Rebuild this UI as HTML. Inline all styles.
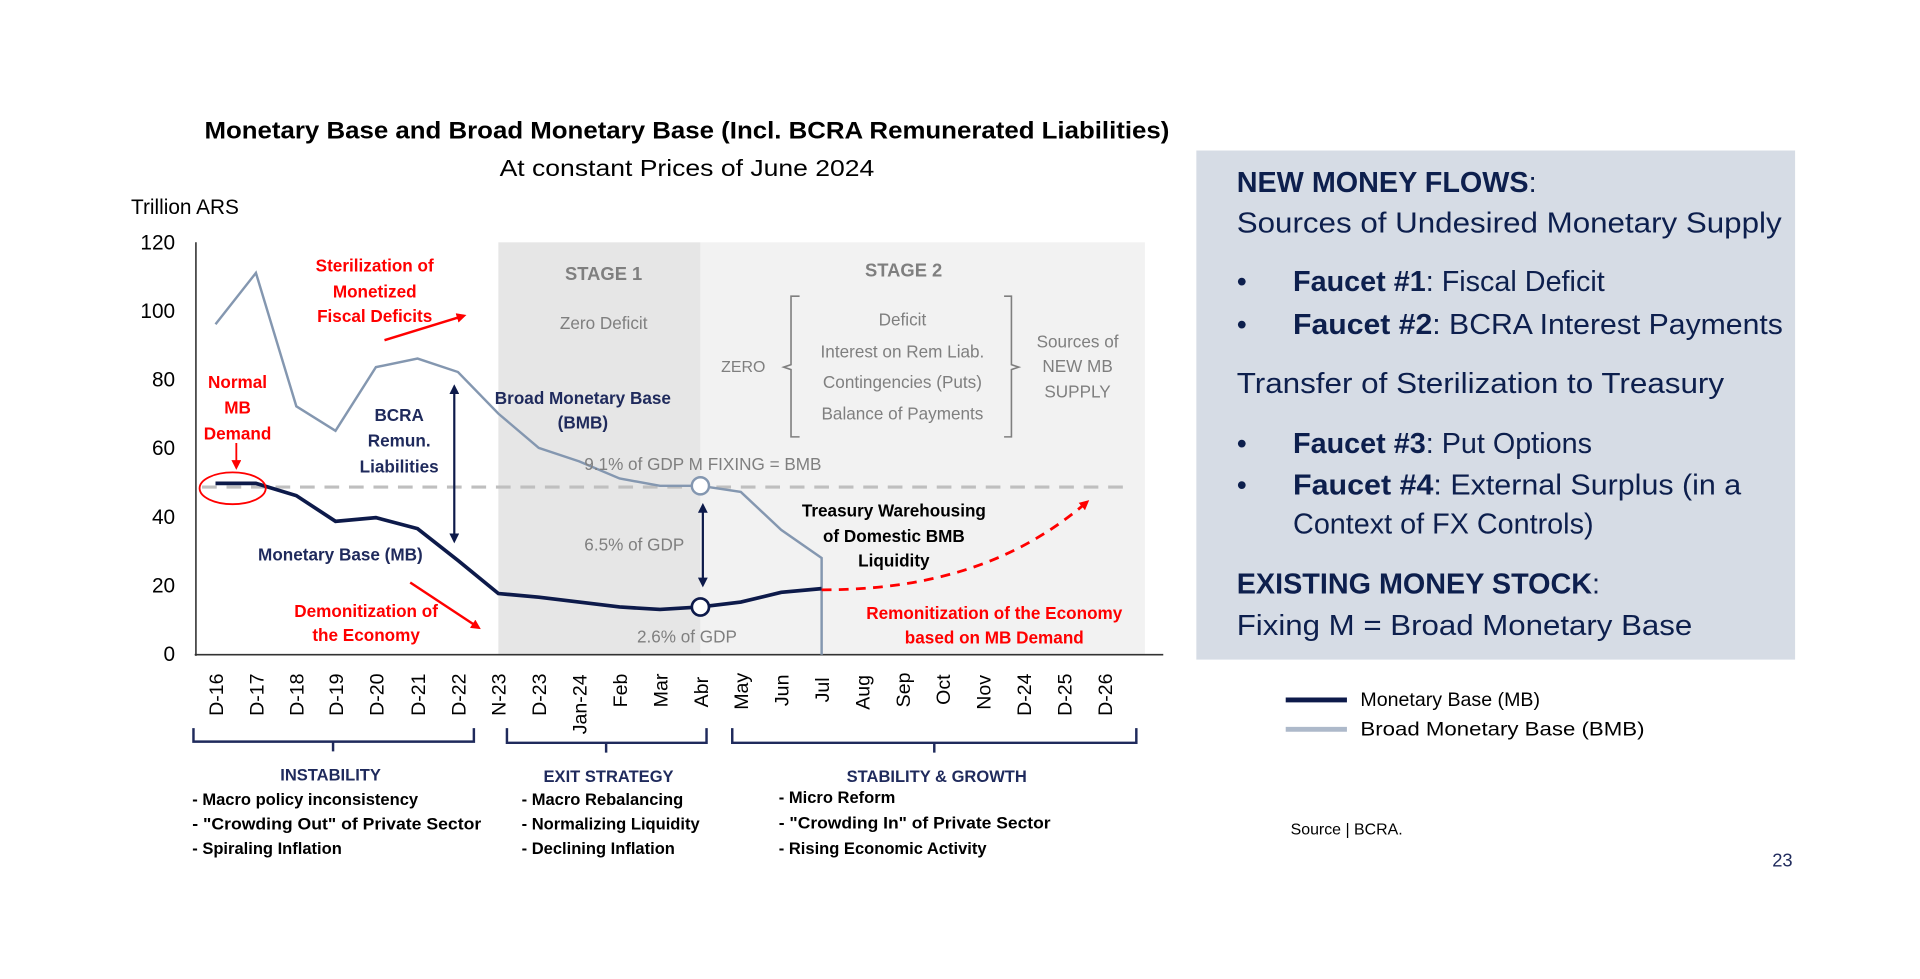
<!DOCTYPE html>
<html><head><meta charset="utf-8"><style>
html,body{margin:0;padding:0;background:#fff;}
svg{display:block;font-family:"Liberation Sans",sans-serif;}
</style></head><body>
<svg width="1920" height="979" viewBox="0 0 1568 800" preserveAspectRatio="none" xmlns="http://www.w3.org/2000/svg">
<defs>
<marker id="ar" markerWidth="8" markerHeight="8" refX="6" refY="4" orient="auto" markerUnits="userSpaceOnUse"><path d="M0,0 L8,4 L0,8 z" fill="#ff0000"/></marker>
<marker id="an" markerWidth="8" markerHeight="8" refX="6" refY="4" orient="auto-start-reverse" markerUnits="userSpaceOnUse"><path d="M0,0 L8,4 L0,8 z" fill="#0d1a4a"/></marker>
</defs>
<text x="167" y="113" font-size="20" font-weight="bold" fill="#000" textLength="788" lengthAdjust="spacingAndGlyphs">Monetary Base and Broad Monetary Base (Incl. BCRA  Remunerated Liabilities)</text>
<text x="408" y="144" font-size="19" fill="#000" textLength="306" lengthAdjust="spacingAndGlyphs">At constant Prices of June 2024</text>
<text x="107" y="175" font-size="17" fill="#000">Trillion ARS</text>
<rect x="407" y="198" width="165" height="337" fill="#e6e6e6"/>
<rect x="572" y="198" width="363" height="337" fill="#f2f2f2"/>
<g font-size="17" text-anchor="end" fill="#000">
<text x="143" y="204">120</text><text x="143" y="260">100</text><text x="143" y="316">80</text><text x="143" y="372">60</text><text x="143" y="428">40</text><text x="143" y="484">20</text><text x="143" y="540">0</text>
</g>
<line x1="160" y1="198" x2="160" y2="536" stroke="#333" stroke-width="1.3"/>
<line x1="159" y1="535" x2="950" y2="535" stroke="#333" stroke-width="1.3"/>
<g font-size="16" fill="#000">
<text transform="translate(182,585) rotate(-90)">D-16</text>
<text transform="translate(215,585) rotate(-90)">D-17</text>
<text transform="translate(248,585) rotate(-90)">D-18</text>
<text transform="translate(280,585) rotate(-90)">D-19</text>
<text transform="translate(313,585) rotate(-90)">D-20</text>
<text transform="translate(347,585) rotate(-90)">D-21</text>
<text transform="translate(380,585) rotate(-90)">D-22</text>
<text transform="translate(413,585) rotate(-90)">N-23</text>
<text transform="translate(446,585) rotate(-90)">D-23</text>
<text transform="translate(479,600) rotate(-90)">Jan-24</text>
<text transform="translate(512,578) rotate(-90)">Feb</text>
<text transform="translate(545,578) rotate(-90)">Mar</text>
<text transform="translate(578,578) rotate(-90)">Abr</text>
<text transform="translate(611,580) rotate(-90)">May</text>
<text transform="translate(644,577) rotate(-90)">Jun</text>
<text transform="translate(677,574) rotate(-90)">Jul</text>
<text transform="translate(710,580) rotate(-90)">Aug</text>
<text transform="translate(743,578) rotate(-90)">Sep</text>
<text transform="translate(776,576) rotate(-90)">Oct</text>
<text transform="translate(809,580) rotate(-90)">Nov</text>
<text transform="translate(842,585) rotate(-90)">D-24</text>
<text transform="translate(875,585) rotate(-90)">D-25</text>
<text transform="translate(908,585) rotate(-90)">D-26</text>
</g>
<line x1="165" y1="398" x2="925" y2="398" stroke="#bfbfbf" stroke-width="2.5" stroke-dasharray="12,8"/>
<polyline fill="none" stroke="#8497b0" stroke-width="2" points="176,265 209,223 242,332 274,352 307,300 341,293 374,304 407,338 440,366 473,377 506,391 539,397 572,397 605,402 638,433 671,456 671,535"/>
<polyline fill="none" stroke="#0d1a4a" stroke-width="3" points="176,395 209,395 242,405 274,426 307,423 341,432 374,458 407,485 440,488 473,492 506,496 539,498 572,496 605,492 638,484 671,481"/>
<path d="M671,482 C760,482 830,460 888,410" fill="none" stroke="#ff0000" stroke-width="2.3" stroke-dasharray="8,6" marker-end="url(#ar)"/>
<circle cx="572" cy="397" r="7" fill="#fff" stroke="#8497b0" stroke-width="2"/>
<circle cx="572" cy="496" r="7" fill="#fff" stroke="#0d1a4a" stroke-width="2.2"/>
<ellipse cx="190" cy="399" rx="27" ry="13" fill="none" stroke="#ff0000" stroke-width="1.5"/>
<line x1="193" y1="362" x2="193" y2="382" stroke="#ff0000" stroke-width="1.5" marker-end="url(#ar)"/>
<line x1="314" y1="278" x2="379" y2="258" stroke="#ff0000" stroke-width="2" marker-end="url(#ar)"/>
<line x1="335" y1="476" x2="391" y2="513" stroke="#ff0000" stroke-width="2" marker-end="url(#ar)"/>
<line x1="371" y1="316" x2="371" y2="442" stroke="#0d1a4a" stroke-width="1.8" marker-start="url(#an)" marker-end="url(#an)"/>
<line x1="574" y1="413" x2="574" y2="478" stroke="#0d1a4a" stroke-width="1.8" marker-start="url(#an)" marker-end="url(#an)"/>
<g font-size="14" font-weight="bold" fill="#ff0000" text-anchor="middle">
<text x="306" y="222">Sterilization of</text><text x="306" y="243">Monetized</text><text x="306" y="263">Fiscal Deficits</text>
<text x="194" y="317">Normal</text><text x="194" y="338">MB</text><text x="194" y="359">Demand</text>
<text x="299" y="504">Demonitization of</text><text x="299" y="524">the Economy</text>
<text x="812" y="506">Remonitization of the Economy</text><text x="812" y="526">based on MB Demand</text>
</g>
<g font-size="14" font-weight="bold" fill="#1f2a5c" text-anchor="middle">
<text x="326" y="344">BCRA</text><text x="326" y="365">Remun.</text><text x="326" y="386">Liabilities</text>
<text x="476" y="330">Broad Monetary Base</text><text x="476" y="350">(BMB)</text>
<text x="278" y="458">Monetary Base (MB)</text>
</g>
<g font-size="14" font-weight="bold" fill="#000" text-anchor="middle">
<text x="730" y="422">Treasury Warehousing</text><text x="730" y="443">of Domestic BMB</text><text x="730" y="463">Liquidity</text>
</g>
<g font-size="14" fill="#7f7f7f" text-anchor="middle">
<text x="493" y="229" font-size="15" font-weight="bold">STAGE 1</text>
<text x="738" y="226" font-size="15" font-weight="bold">STAGE 2</text>
<text x="493" y="269">Zero Deficit</text>
<text x="607" y="304" font-size="13">ZERO</text>
<text x="737" y="266">Deficit</text>
<text x="737" y="292">Interest on Rem Liab.</text>
<text x="737" y="317">Contingencies (Puts)</text>
<text x="737" y="343">Balance of Payments</text>
<text x="880" y="284">Sources of</text><text x="880" y="304">NEW MB</text><text x="880" y="325">SUPPLY</text>
<text x="574" y="384">9.1% of GDP M FIXING = BMB</text>
<text x="518" y="450">6.5% of GDP</text>
<text x="561" y="525">2.6% of GDP</text>
</g>
<path d="M653,242 L646,242 L646,298 L640,300 L646,302 L646,357 L653,357" fill="none" stroke="#7f7f7f" stroke-width="1.3"/>
<path d="M820,242 L826,242 L826,298 L832,300 L826,302 L826,357 L820,357" fill="none" stroke="#7f7f7f" stroke-width="1.3"/>
<g fill="none" stroke="#1f2a5c" stroke-width="2">
<path d="M158,595 L158,606 L387,606 L387,595 M272,606 L272,614"/>
<path d="M414,595 L414,607 L577,607 L577,595 M495,607 L495,615"/>
<path d="M598,595 L598,607 L928,607 L928,595 M763,607 L763,615"/>
</g>
<g font-size="13.5" font-weight="bold" fill="#000">
<text x="270" y="638" text-anchor="middle" fill="#1f2a5c">INSTABILITY</text>
<text x="157" y="658">- Macro policy inconsistency</text>
<text x="157" y="678" textLength="236" lengthAdjust="spacingAndGlyphs">- "Crowding Out" of Private Sector</text>
<text x="157" y="698">- Spiraling Inflation</text>
<text x="497" y="639" text-anchor="middle" fill="#1f2a5c">EXIT STRATEGY</text>
<text x="426" y="658">- Macro Rebalancing</text>
<text x="426" y="678">- Normalizing Liquidity</text>
<text x="426" y="698">- Declining Inflation</text>
<text x="765" y="639" text-anchor="middle" fill="#1f2a5c">STABILITY &amp; GROWTH</text>
<text x="636" y="656">- Micro Reform</text>
<text x="636" y="677" textLength="222" lengthAdjust="spacingAndGlyphs">- "Crowding In" of Private Sector</text>
<text x="636" y="698">- Rising Economic Activity</text>
</g>
<rect x="977" y="123" width="489" height="416" fill="#d6dce5"/>
<g font-size="23.5" fill="#0d1f4d">
<text x="1010" y="157"><tspan font-weight="bold">NEW MONEY FLOWS</tspan>:</text>
<text x="1010" y="190" textLength="445" lengthAdjust="spacingAndGlyphs">Sources of Undesired Monetary Supply</text>
<text x="1010" y="238">•</text><text x="1056" y="238"><tspan font-weight="bold">Faucet #1</tspan>: Fiscal Deficit</text>
<text x="1010" y="273">•</text><text x="1056" y="273" textLength="400" lengthAdjust="spacingAndGlyphs"><tspan font-weight="bold">Faucet #2</tspan>: BCRA Interest Payments</text>
<text x="1010" y="321" textLength="398" lengthAdjust="spacingAndGlyphs">Transfer of Sterilization to Treasury</text>
<text x="1010" y="370">•</text><text x="1056" y="370"><tspan font-weight="bold">Faucet #3</tspan>: Put Options</text>
<text x="1010" y="404">•</text><text x="1056" y="404" textLength="366" lengthAdjust="spacingAndGlyphs"><tspan font-weight="bold">Faucet #4</tspan>: External Surplus (in a</text>
<text x="1056" y="436">Context of FX Controls)</text>
<text x="1010" y="485"><tspan font-weight="bold">EXISTING MONEY STOCK</tspan>:</text>
<text x="1010" y="519" textLength="372" lengthAdjust="spacingAndGlyphs">Fixing M = Broad Monetary Base</text>
</g>
<line x1="1050" y1="572" x2="1100" y2="572" stroke="#0d1a4a" stroke-width="4"/>
<line x1="1050" y1="596" x2="1100" y2="596" stroke="#adb9ca" stroke-width="4"/>
<text x="1111" y="577" font-size="16" fill="#000">Monetary Base (MB)</text>
<text x="1111" y="601" font-size="16" fill="#000" textLength="232" lengthAdjust="spacingAndGlyphs">Broad Monetary Base (BMB)</text>
<text x="1054" y="682" font-size="13" fill="#000">Source | BCRA.</text>
<text x="1464" y="708" font-size="15" fill="#1f2a5c" text-anchor="end">23</text>
</svg>
</body></html>
